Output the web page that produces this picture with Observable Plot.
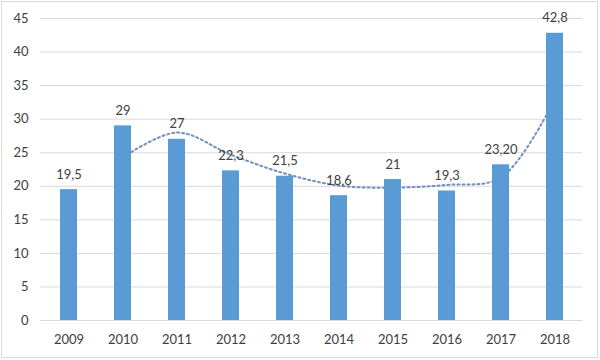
<!DOCTYPE html>
<html>
<head>
<meta charset="utf-8">
<script src="https://cdn.jsdelivr.net/npm/d3@7"></script>
<script src="https://cdn.jsdelivr.net/npm/@observablehq/plot@0.6"></script>
<style>
  html, body { margin: 0; padding: 0; background: #fff; }
  #wrap { position: relative; width: 600px; height: 360px; }
  #frame { position: absolute; left: 1px; top: 1px; width: 597px; height: 357px; box-sizing: border-box; border: 1px solid #d9d9d9; pointer-events: none; }
  svg { display: block; }
</style>
</head>
<body>
<div id="wrap"><div id="frame"></div></div>
<script>
const years = ["2009","2010","2011","2012","2013","2014","2015","2016","2017","2018"];
const values = [19.5, 29, 27, 22.3, 21.5, 18.6, 21, 19.3, 23.2, 42.8];
const valueLabels = ["19,5","29","27","22,3","21,5","18,6","21","19,3","23,20","42,8"];
const trendYears = ["2010","2011","2012","2013","2014","2015","2016","2017","2018"];
const trendValues = [24.3, 28, 24.7, 21.9, 20.1, 19.8, 20.2, 21.3, 33];
const yTicks = [0, 5, 10, 15, 20, 25, 30, 35, 40, 45];

const bars = years.map((y, i) => ({year: y, value: values[i], label: valueLabels[i]}));
const trend = trendYears.map((y, i) => ({year: y, value: trendValues[i]}));

const font = "Lato, 'Open Sans', sans-serif";

const chart = Plot.plot({
  width: 600,
  height: 360,
  marginLeft: 40,
  marginRight: 18,
  marginTop: 18,
  marginBottom: 40,
  style: {fontFamily: font, fontSize: "13px", color: "#404040", background: "transparent"},
  x: {domain: years, paddingInner: 0.69, paddingOuter: 0.345, label: null, tickSize: 0, tickPadding: 14},
  y: {domain: [0, 45], ticks: yTicks, label: null, tickSize: 0, tickPadding: 12},
  marks: [
    Plot.gridY(yTicks, {stroke: "#d9d9d9", strokeOpacity: 1, strokeWidth: 1}),
    Plot.line(trend, {
      x: "year", y: "value",
      stroke: "#6f8fc0", strokeWidth: 2, strokeDasharray: "2,3",
      curve: "catmull-rom"
    }),
    Plot.barY(bars, {x: "year", y: "value", fill: "#5b9bd5"}),
    Plot.text(bars, {x: "year", y: "value", text: "label", dy: -15, fill: "#404040", fontSize: 13}),
    Plot.axisX({tickSize: 0, tickPadding: 14, fontSize: 13, fill: "#404040"}),
    Plot.axisY(yTicks, {tickSize: 0, tickPadding: 12, fontSize: 13, fill: "#404040"})
  ]
});
document.getElementById("wrap").prepend(chart);
</script>
</body>
</html>
